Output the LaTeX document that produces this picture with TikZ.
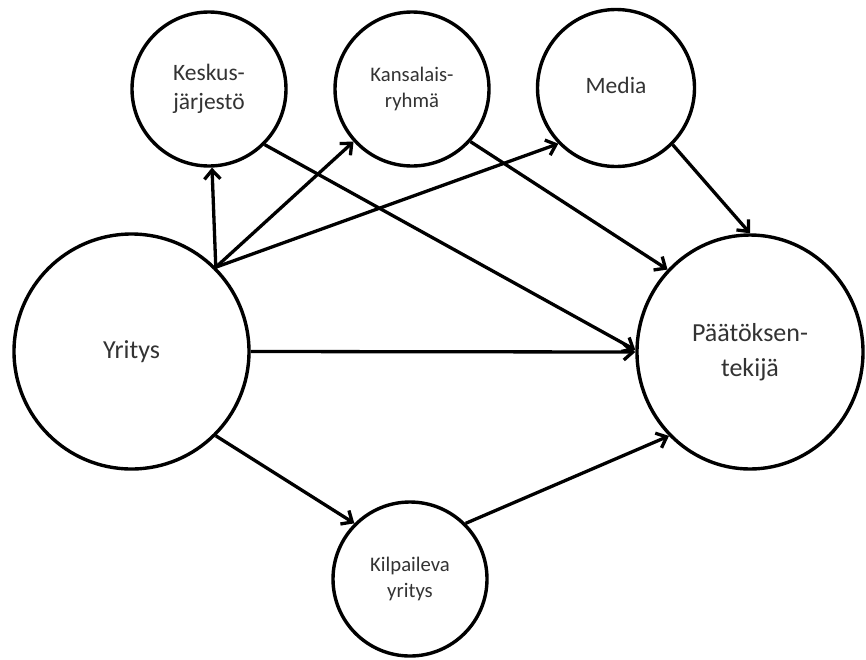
\documentclass[tikz,border=0pt]{standalone}
\usepackage{fontspec}
\setmainfont{Carlito}
\usetikzlibrary{arrows.meta,shapes.geometric}

% centred lines, lowered a little inside their circle
\newcommand\lowtext[2]{\raisebox{-#1}{\begin{tabular}{@{}c@{}}#2\end{tabular}}}

\tikzset{
  actor/.style={circle, draw=black, line width=3.4pt, fill=white, inner sep=0pt,
    text=black!80},
  link/.style={line width=3.3pt, -{Straight Barb[length=9pt,width=16pt,line width=3.3pt]}},
  bigtext/.style={font=\fontsize{26}{35}\selectfont},
  midtext/.style={font=\fontsize{23.5}{29}\selectfont},
  smalltext/.style={font=\fontsize{20.7}{26}\selectfont}
}

\begin{document}
\begin{tikzpicture}[x=1pt, y=-1pt]
  \useasboundingbox (0,0) rectangle (866,659);

  % actors
  \node[actor, bigtext, minimum size=235pt] (yr) at (131.5,351.5) {\lowtext{4pt}{Yritys}};
  \node[ellipse, draw=black, line width=3.4pt, fill=white, inner sep=0pt,
        text=black!80, bigtext,
        minimum width=226pt, minimum height=234pt] (pt) at (750,352)
        {\lowtext{6pt}{Päätöksen-\\tekijä}};
  \node[actor, midtext, minimum size=154pt] (kj) at (209,89) {\lowtext{4pt}{Keskus-\\järjestö}};
  \node[actor, smalltext, minimum size=154pt] (ks) at (412,89) {\lowtext{2pt}{Kansalais-\\ryhmä}};
  \node[actor, midtext, minimum size=157pt] (md) at (616,88) {\lowtext{3pt}{Media}};
  \node[actor, smalltext, minimum size=154pt] (kp) at (410,579) {\lowtext{4pt}{Kilpaileva\\yritys}};

  % influence links
  \draw[link] (yr.45) -- (kj);
  \draw[link] (yr.45) -- (ks.222);
  \draw[link] (yr.45) -- (md.224);
  \draw[link] (yr.east) -- (pt.west);
  \draw[link] (yr.-45) -- (kp.135);
  \draw[link] (kp.45) -- (pt.226);
  \draw[link] (kj.-45) -- (pt.179);
  \draw[link] (ks.-42) -- (pt.135);
  \draw[link] (md.-45) -- (pt.north);
\end{tikzpicture}
\end{document}
